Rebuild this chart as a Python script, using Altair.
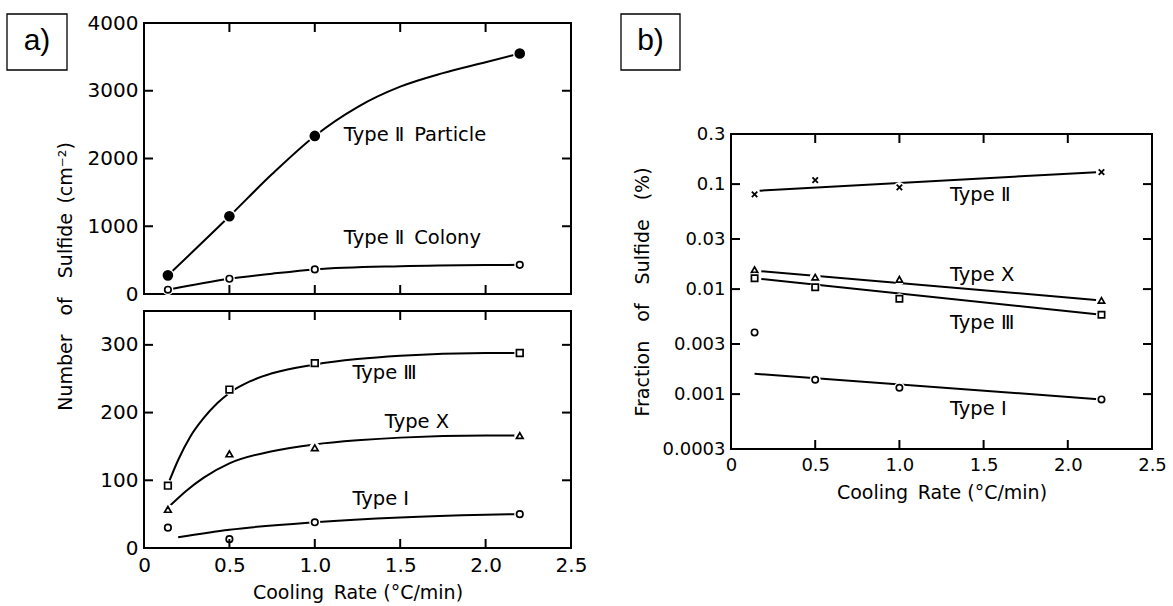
import altair as alt
import pandas as pd

FONT = "DejaVu Sans"
INK = "black"

# ---------------- panel a, upper: Type II sulfides, number per cm^2
rate = [0.14, 0.5, 1.0, 2.2]
particle = [275, 1147, 2333, 3550]
colony = [63, 225, 363, 430]

particle_fit_x = [0.14, 0.5, 0.75, 1.0, 1.25, 1.5, 1.75, 2.0, 2.2]
particle_fit_y = [275, 1147, 1770, 2333, 2760, 3060, 3260, 3420, 3550]
colony_fit_x = [0.14, 0.5, 0.75, 1.0, 1.5, 2.0, 2.2]
colony_fit_y = [63, 225, 300, 363, 410, 428, 430]

# ---------------- panel a, lower: Types III, X and I
type3 = [92, 234, 273, 288]
typeX = [57, 139, 148, 166]
type1 = [30, 13, 38, 50]

type3_fit_x = [0.15, 0.2, 0.27, 0.35, 0.43, 0.5, 0.62, 0.75, 1.0, 1.25, 1.5, 2.0, 2.2]
type3_fit_y = [100, 130, 164, 192, 214, 229, 246, 258, 271, 279, 284, 288, 288]
typeX_fit_x = [0.15, 0.25, 0.35, 0.5, 0.75, 1.0, 1.25, 1.5, 2.0, 2.2]
typeX_fit_y = [62, 85, 104, 125, 143, 153, 159, 163, 166, 166]
type1_fit_x = [0.2, 0.5, 1.0, 1.5, 2.0, 2.2]
type1_fit_y = [16, 27, 38, 45, 49, 50]

# ---------------- panel b: volume fraction of sulfide (%), log scale
frac2 = [0.080, 0.109, 0.093, 0.130]
fracX = [0.0153, 0.0130, 0.0124, 0.0078]
frac3 = [0.0127, 0.0104, 0.0081, 0.0057]
frac1 = [0.00387, 0.00137, 0.00115, 0.00089]

frac2_fit_x, frac2_fit_y = [0.17, 2.17], [0.0865, 0.130]
fracX_fit_x, fracX_fit_y = [0.18, 2.2], [0.0148, 0.0078]
frac3_fit_x, frac3_fit_y = [0.18, 2.2], [0.0125, 0.0057]
frac1_fit_x, frac1_fit_y = [0.14, 2.2], [0.00156, 0.00089]

# ---------------- tick positions and curve labels
x_labels = [0, 0.5, 1.0, 1.5, 2.0, 2.5]
x_inner = [0.5, 1.0, 1.5, 2.0]
a_top_labels = [0, 1000, 2000, 3000, 4000]
a_top_inner = [1000, 2000, 3000]
a_bot_labels = [0, 100, 200, 300]
a_bot_inner = [100, 200, 300]
b_labels = [0.0003, 0.001, 0.003, 0.01, 0.03, 0.1, 0.3]
b_inner = [0.001, 0.003, 0.01, 0.03, 0.1]

a_top_text = ["Type \u2161\u2002Particle", "Type \u2161\u2002Colony"]
a_top_text_x = [1.17, 1.17]
a_top_text_y = [2340, 824]
a_bot_text = ["Type \u2162", "Type X", "Type \u2160"]
a_bot_text_x = [1.22, 1.41, 1.22]
a_bot_text_y = [258, 186, 73]
b_text = ["Type \u2161", "Type X", "Type \u2162", "Type \u2160"]
b_text_x = [1.30, 1.30, 1.30, 1.30]
b_text_y = [0.0787, 0.0136, 0.00475, 0.00072]

TL = 9  # inward tick length
X_FMT = "datum.value == 0 ? '0' : format(datum.value, '.1f')"


def df(xs, ys):
    return pd.DataFrame({"x": xs, "y": ys})


def curve(xs, ys, X, Y, interp="monotone"):
    return alt.Chart(df(xs, ys)).mark_line(
        color=INK, strokeWidth=2, interpolate=interp
    ).encode(x=X, y=Y)


def symbols(xs, ys, X, Y, shape, size, solid=False, halo=120, sw=1.7):
    base = alt.Chart(df(xs, ys)).encode(x=X, y=Y)
    ring = base.mark_point(shape="circle", size=halo, filled=True,
                           color="white", opacity=1)
    mark = base.mark_point(shape=shape, size=size, filled=True,
                           fill=INK if solid else "white", stroke=INK,
                           strokeWidth=sw, opacity=1)
    return [ring, mark]


def frame_ticks(xt, yt, X, Y, w, h):
    xd = pd.DataFrame({"x": xt})
    yd = pd.DataFrame({"y": yt})
    rule = dict(color=INK, strokeWidth=2)
    return [
        alt.Chart(xd).mark_rule(**rule).encode(x=X, y=alt.value(0), y2=alt.value(TL)),
        alt.Chart(xd).mark_rule(**rule).encode(x=X, y=alt.value(h), y2=alt.value(h - TL)),
        alt.Chart(yd).mark_rule(**rule).encode(y=Y, x=alt.value(0), x2=alt.value(TL)),
        alt.Chart(yd).mark_rule(**rule).encode(y=Y, x=alt.value(w), x2=alt.value(w - TL)),
    ]


def labels(texts, xs, ys, X, Y, size=19.5):
    d = pd.DataFrame({"x": xs, "y": ys, "t": texts})
    return alt.Chart(d).mark_text(
        font=FONT, fontSize=size, align="left", baseline="middle", color=INK
    ).encode(x=X, y=Y, text="t:N")


def tag(text, x0, y0, w, h):
    d = pd.DataFrame({"t": [text]})
    box = alt.Chart(d).mark_rect(fill="white", stroke=INK, strokeWidth=1.3).encode(
        x=alt.value(x0), x2=alt.value(x0 + w), y=alt.value(y0), y2=alt.value(y0 + h)
    )
    txt = alt.Chart(d).mark_text(
        font="Liberation Sans", fontSize=30, align="center", baseline="middle", color=INK
    ).encode(x=alt.value(x0 + w / 2), y=alt.value(y0 + h / 2 - 1), text="t:N")
    return [box, txt]


XSCALE = alt.Scale(domain=[0, 2.5], nice=False, zero=False)

# ---------------- panel a, upper
WA, HA1, HA2 = 427, 271, 237
Xa1 = alt.X("x:Q", scale=XSCALE, axis=None)
Ya1 = alt.Y(
    "y:Q",
    scale=alt.Scale(domain=[0, 4000], nice=False),
    axis=alt.Axis(
        values=a_top_labels, format="d", labelFontSize=20, labelPadding=6,
        title="Number\u2003of\u2003Sulfide\u2002(cm\u207b\u00b2)",
        titleX=-79, titleY=253, titleBaseline="middle", titleAngle=270,
    ),
)
a_top = alt.layer(
    curve(particle_fit_x, particle_fit_y, Xa1, Ya1),
    curve(colony_fit_x, colony_fit_y, Xa1, Ya1),
    *symbols(rate, particle, Xa1, Ya1, "circle", 80, solid=True, halo=180),
    *symbols(rate, colony, Xa1, Ya1, "circle", 42),
    *frame_ticks(x_inner, a_top_inner, Xa1, Ya1, WA, HA1),
    labels(a_top_text, a_top_text_x, a_top_text_y, Xa1, Ya1),
    *tag("a)", -137, -9, 60, 56),
).properties(width=WA, height=HA1)

# ---------------- panel a, lower
Xa2 = alt.X(
    "x:Q", scale=XSCALE,
    axis=alt.Axis(values=x_labels, labelExpr=X_FMT, labelFontSize=20,
                  labelPadding=7, labelFlush=False, labelOverlap=False,
                  title="Cooling\u2002Rate (\u00b0C/min)", titlePadding=8),
)
Ya2 = alt.Y(
    "y:Q",
    scale=alt.Scale(domain=[0, 350], nice=False),
    axis=alt.Axis(values=a_bot_labels, format="d", labelFontSize=20,
                  labelPadding=6, title=None),
)
a_bot = alt.layer(
    curve(type3_fit_x, type3_fit_y, Xa2, Ya2),
    curve(typeX_fit_x, typeX_fit_y, Xa2, Ya2),
    curve(type1_fit_x, type1_fit_y, Xa2, Ya2),
    *symbols(rate, type3, Xa2, Ya2, "square", 44),
    *symbols(rate, typeX, Xa2, Ya2, "triangle-up", 44),
    *symbols(rate, type1, Xa2, Ya2, "circle", 42),
    *frame_ticks(x_inner, a_bot_inner, Xa2, Ya2, WA, HA2),
    labels(a_bot_text, a_bot_text_x, a_bot_text_y, Xa2, Ya2),
).properties(width=WA, height=HA2)

panel_a = alt.vconcat(a_top, a_bot, spacing=17, bounds="flush")

# ---------------- panel b
WB, HB = 421, 315
CROSS = "M-1,-1L1,1M1,-1L-1,1"
Xb = alt.X(
    "x:Q", scale=XSCALE,
    axis=alt.Axis(values=x_labels, labelExpr=X_FMT, labelFontSize=18,
                  labelPadding=7, labelFlush=False, labelOverlap=False,
                  title="Cooling\u2002Rate (\u00b0C/min)", titlePadding=9),
)
Yb = alt.Y(
    "y:Q",
    scale=alt.Scale(type="log", domain=[0.0003, 0.3], nice=False),
    axis=alt.Axis(values=b_labels, format="~g", labelFontSize=18, labelPadding=6,
                  labelOverlap=False,
                  title="Fraction\u2003of\u2003Sulfide\u2003(%)",
                  titleX=-89, titleBaseline="middle", titleAngle=270),
)
b_plot = alt.layer(
    curve(frac2_fit_x, frac2_fit_y, Xb, Yb, "linear"),
    curve(fracX_fit_x, fracX_fit_y, Xb, Yb, "linear"),
    curve(frac3_fit_x, frac3_fit_y, Xb, Yb, "linear"),
    curve(frac1_fit_x, frac1_fit_y, Xb, Yb, "linear"),
    *symbols(rate, frac2, Xb, Yb, CROSS, 30, sw=1.8),
    *symbols(rate, fracX, Xb, Yb, "triangle-up", 40),
    *symbols(rate, frac3, Xb, Yb, "square", 40),
    *symbols(rate, frac1, Xb, Yb, "circle", 40),
    *frame_ticks(x_inner, b_inner, Xb, Yb, WB, HB),
    labels(b_text, b_text_x, b_text_y, Xb, Yb),
).properties(width=WB, height=HB)

# empty strip above panel b that carries the "b)" tag
b_head = alt.layer(*tag("b)", -110, -9, 59, 56)).properties(
    width=WB, height=94, view=alt.ViewConfig(strokeOpacity=0)
)
panel_b = alt.vconcat(b_head, b_plot, spacing=17, bounds="flush")

chart = (
    alt.hconcat(panel_a, panel_b, spacing=32)
    .properties(padding={"left": 5, "top": 12, "right": 0, "bottom": 0},
                background="white")
    .configure_view(stroke=INK, strokeWidth=2)
    .configure_axis(
        labelFont=FONT, titleFont=FONT, labelColor=INK, titleColor=INK,
        titleFontSize=19, titleFontWeight="normal", grid=False, ticks=False,
        domain=False,
    )
)

chart.save("out.html", embed_options={"renderer": "svg", "actions": False})
